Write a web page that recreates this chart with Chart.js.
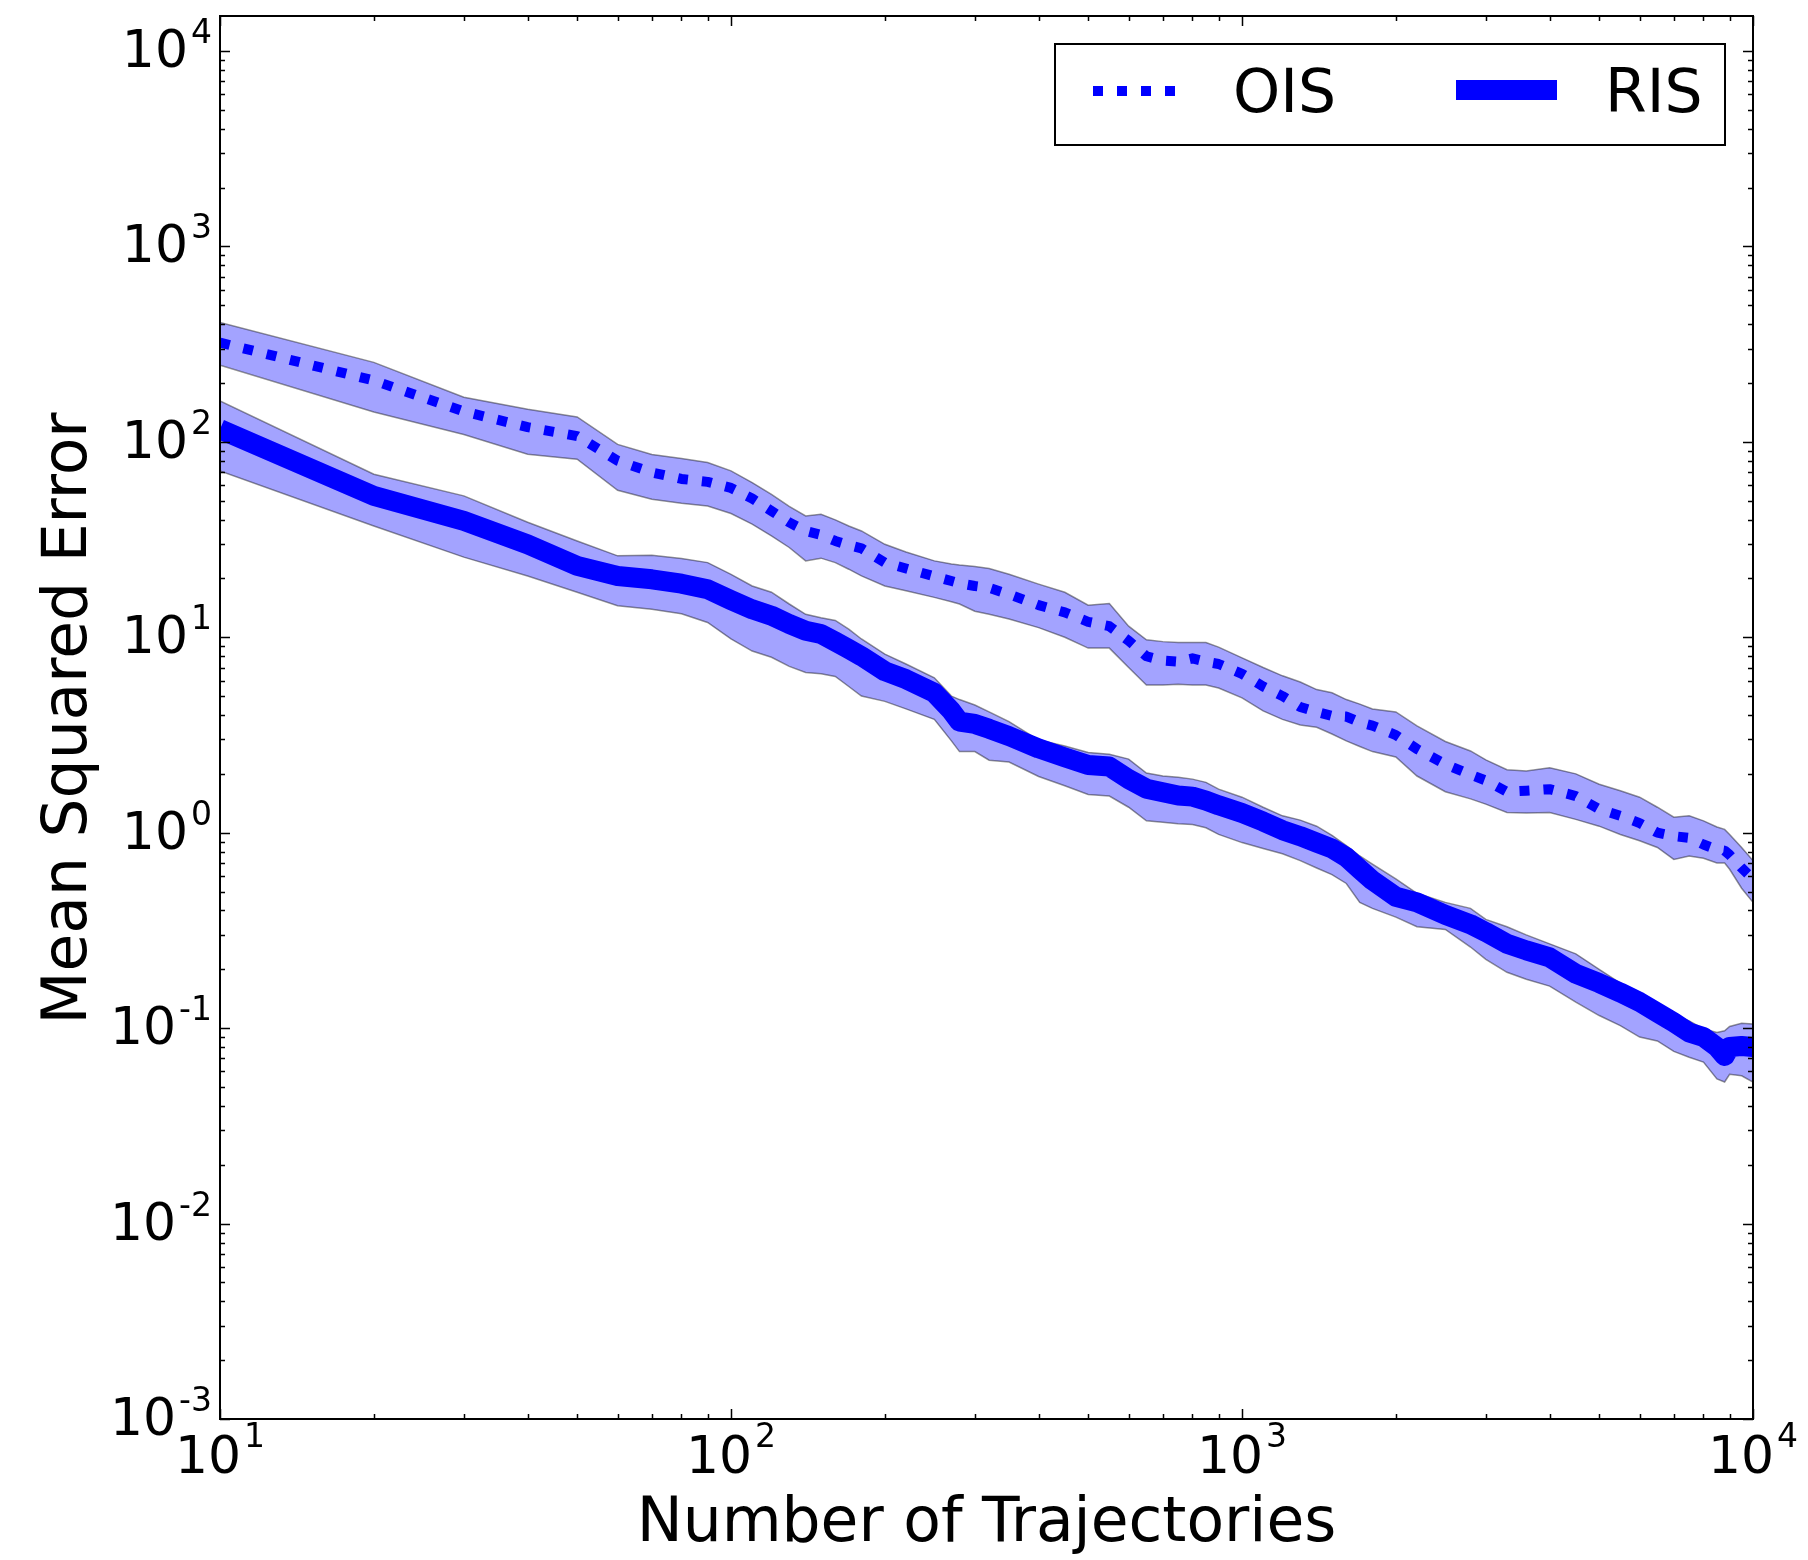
<!DOCTYPE html>
<html>
<head>
<meta charset="utf-8">
<script src="https://cdn.jsdelivr.net/npm/chart.js@4.4.0/dist/chart.umd.min.js"></script>
<style>
  html, body { margin: 0; padding: 0; background: #ffffff; }
  #wrap { width: 1808px; height: 1560px; }
  canvas { display: block; }
</style>
</head>
<body>
<div id="wrap"><canvas id="c" width="1808" height="1560" style="width:1808px;height:1560px"></canvas></div>
<script>
// ---- data ----
const trajectories = [10,20,30,40,50,60,70,80,90,100,110,120,130,140,150,160,170,180,200,220,250,270,280,300,320,350,400,450,500,550,600,650,700,750,800,850,900,1000,1100,1200,1300,1400,1500,1600,1700,1800,2000,2200,2500,2800,3000,3300,3600,4000,4500,5000,5500,6000,6500,7000,7500,8000,8500,8800,9000,9500,10000];

const oisMean = [322,206,143,119,107,80,69.7,64.6,62.4,58.1,51.3,44.3,38.7,35.0,33.4,31.1,29.6,28.5,24.1,22.5,20.5,19.4,18.9,18.3,17.9,16.6,14.6,13.4,12.0,11.4,9.6,8.0,7.6,7.5,7.8,7.5,7.3,6.5,5.6,5.0,4.4,4.15,3.96,3.93,3.67,3.53,3.16,2.68,2.24,1.98,1.85,1.62,1.64,1.67,1.54,1.32,1.22,1.12,1.0,0.96,0.94,0.87,0.82,0.81,0.77,0.66,0.58];
const oisLow  = [247,142,109,86.4,81.5,56.5,50.9,48.5,47.0,43.0,37.9,33.0,28.8,24.6,25.4,24.1,22.3,20.6,18.3,17.3,16.0,15.2,14.8,13.6,13.1,12.4,11.2,10.0,8.8,8.8,7.0,5.7,5.7,5.75,5.7,5.7,5.5,4.9,4.2,3.8,3.56,3.46,3.2,2.95,2.76,2.6,2.44,1.95,1.62,1.49,1.40,1.27,1.26,1.27,1.17,1.08,0.98,0.91,0.84,0.73,0.76,0.74,0.70,0.70,0.65,0.52,0.44];
const oisHigh = [408,255,169,147,134,97,86.1,82.2,78.4,71.0,61.9,53.8,46.7,41.8,42.6,39.9,37.1,35.0,29.9,27.3,24.6,23.7,23.4,23.0,22.5,21.0,18.7,17.0,14.6,14.9,11.4,9.7,9.5,9.4,9.4,9.4,8.9,7.85,7.0,6.35,5.9,5.4,5.2,4.8,4.55,4.3,4.15,3.52,2.93,2.62,2.36,2.10,2.07,2.15,2.0,1.77,1.64,1.52,1.35,1.20,1.22,1.15,1.07,1.04,0.98,0.84,0.72];

const risMean = [116,52.9,39.4,29.9,23.2,20.6,19.8,18.8,17.6,15.5,13.9,12.9,11.7,10.8,10.4,9.5,8.7,8.0,6.7,6.1,5.2,4.2,3.7,3.6,3.4,3.12,2.70,2.43,2.22,2.18,1.88,1.68,1.61,1.55,1.53,1.46,1.38,1.26,1.14,1.03,0.96,0.89,0.83,0.75,0.65,0.57,0.47,0.44,0.38,0.34,0.31,0.27,0.25,0.23,0.19,0.17,0.152,0.136,0.12,0.107,0.095,0.090,0.080,0.072,0.080,0.081,0.080];
const risLow  = [71,37.1,25.7,20.6,17.0,14.5,13.9,13.2,11.9,9.8,8.5,7.9,7.1,6.6,6.5,6.3,5.6,5.0,4.7,4.3,3.8,2.95,2.6,2.6,2.35,2.3,1.94,1.74,1.57,1.54,1.35,1.15,1.13,1.11,1.10,1.06,0.98,0.89,0.83,0.78,0.72,0.66,0.61,0.55,0.44,0.41,0.37,0.33,0.32,0.26,0.225,0.193,0.178,0.164,0.136,0.116,0.103,0.090,0.086,0.076,0.071,0.067,0.055,0.053,0.058,0.057,0.053];
const risHigh = [162,68.3,52.9,38.8,31.1,26.1,26.3,25.3,24.1,21.0,18.3,17.0,14.8,13.1,12.6,12.2,11.0,9.8,8.2,7.3,6.2,5.0,4.8,4.5,4.15,3.7,2.98,2.78,2.57,2.52,2.38,2.02,1.95,1.92,1.88,1.81,1.67,1.52,1.35,1.22,1.16,1.08,0.97,0.86,0.76,0.69,0.58,0.49,0.44,0.41,0.36,0.33,0.30,0.27,0.24,0.20,0.17,0.152,0.130,0.117,0.109,0.099,0.095,0.097,0.102,0.106,0.105];

const xTickExponents = [1, 2, 3, 4];
const yTickExponents = [-3, -2, -1, 0, 1, 2, 3, 4];
const seriesNames = ['OIS', 'RIS'];
const xTitle = 'Number of Trajectories';
const yTitle = 'Mean Squared Error';

// ---- build datasets ----
const pts = arr => trajectories.map((n, i) => ({ x: n, y: arr[i] }));
const BLUE = '#0000ff';
const BAND = 'rgba(0,0,255,0.36)';
const EDGE = 'rgba(0,0,0,0.42)';

const datasets = [
  { label: 'OIS upper', data: pts(oisHigh), borderColor: EDGE, borderWidth: 1.5, fill: false, order: 4 },
  { label: 'OIS lower', data: pts(oisLow), borderColor: EDGE, borderWidth: 1.5, fill: '-1', backgroundColor: BAND, order: 4 },
  { label: 'RIS upper', data: pts(risHigh), borderColor: EDGE, borderWidth: 1.5, fill: false, order: 3 },
  { label: 'RIS lower', data: pts(risLow), borderColor: EDGE, borderWidth: 1.5, fill: '-1', backgroundColor: BAND, order: 3 },
  { label: seriesNames[0], data: pts(oisMean), borderColor: BLUE, borderWidth: 10, borderDash: [10, 14], borderCapStyle: 'butt', borderJoinStyle: 'round', fill: false, order: 2 },
  { label: seriesNames[1], data: pts(risMean), borderColor: BLUE, borderWidth: 20, borderCapStyle: 'butt', borderJoinStyle: 'round', fill: false, order: 1 }
];

const FONT = '"DejaVu Sans", "Liberation Sans", sans-serif';

const decor = {
  id: 'decor',
  afterDraw(chart) {
    const { ctx, chartArea: a, scales: { x, y } } = chart;
    ctx.save();
    // frame
    ctx.strokeStyle = '#000';
    ctx.lineWidth = 2;
    ctx.strokeRect(a.left, a.top, a.right - a.left, a.bottom - a.top);

    // inward ticks on all four sides
    ctx.lineWidth = 1.5;
    ctx.beginPath();
    for (let e = 0; e <= 4; e++) {
      for (let m = 1; m <= 9; m++) {
        const v = m * Math.pow(10, e);
        if (v < x.min * 0.999 || v > x.max * 1.001) continue;
        const px = Math.round(x.getPixelForValue(v)) + 0.5;
        const len = m === 1 ? 10 : 5;
        ctx.moveTo(px, a.bottom); ctx.lineTo(px, a.bottom - len);
        ctx.moveTo(px, a.top); ctx.lineTo(px, a.top + len);
      }
    }
    for (let e = -3; e <= 4; e++) {
      for (let m = 1; m <= 9; m++) {
        const v = m * Math.pow(10, e);
        if (v < y.min * 0.999 || v > y.max * 1.001) continue;
        const py = Math.round(y.getPixelForValue(v)) + 0.5;
        const len = m === 1 ? 10 : 5;
        ctx.moveTo(a.left, py); ctx.lineTo(a.left + len, py);
        ctx.moveTo(a.right, py); ctx.lineTo(a.right - len, py);
      }
    }
    ctx.stroke();

    // tick labels 10^n
    ctx.fillStyle = '#000';
    const baseFont = '52px ' + FONT;
    const expFont = '33px ' + FONT;
    const gap = 3;
    ctx.textBaseline = 'alphabetic';
    xTickExponents.forEach(e => {
      const px = x.getPixelForValue(Math.pow(10, e));
      const es = String(e);
      ctx.font = baseFont; const wb = ctx.measureText('10').width;
      ctx.font = expFont; const we = ctx.measureText(es).width;
      const start = px - (wb + gap + we) / 2;
      ctx.textAlign = 'left';
      ctx.font = baseFont; ctx.fillText('10', start, a.bottom + 54);
      ctx.font = expFont; ctx.fillText(es, start + wb + gap, a.bottom + 28);
    });
    yTickExponents.forEach(e => {
      const py = y.getPixelForValue(Math.pow(10, e));
      const es = String(e);
      const right = a.left - 8;
      ctx.textAlign = 'right';
      ctx.font = expFont; const we = ctx.measureText(es).width;
      ctx.fillText(es, right, py - 8);
      ctx.font = baseFont; ctx.fillText('10', right - we - gap, py + 16);
    });

    // axis titles
    ctx.font = '61.5px ' + FONT;
    ctx.textAlign = 'center';
    ctx.fillText(xTitle, (a.left + a.right) / 2, 1541);
    ctx.save();
    ctx.translate(86, (a.top + a.bottom) / 2 + 1);
    ctx.rotate(-Math.PI / 2);
    ctx.fillText(yTitle, 0, 0);
    ctx.restore();

    // legend
    const lx = 1055, ly = 44, lw = 670, lh = 101;
    ctx.fillStyle = '#fff';
    ctx.fillRect(lx, ly, lw, lh);
    ctx.strokeStyle = '#000';
    ctx.lineWidth = 2;
    ctx.strokeRect(lx, ly, lw, lh);
    // OIS sample
    ctx.strokeStyle = BLUE;
    ctx.lineCap = 'butt';
    ctx.lineWidth = 10;
    ctx.setLineDash([10, 14]);
    ctx.beginPath(); ctx.moveTo(1093, 91); ctx.lineTo(1176, 91); ctx.stroke();
    ctx.setLineDash([]);
    // RIS sample
    ctx.lineWidth = 20;
    ctx.beginPath(); ctx.moveTo(1456, 90); ctx.lineTo(1557, 90); ctx.stroke();
    ctx.fillStyle = '#000';
    ctx.font = '60px ' + FONT;
    ctx.textAlign = 'left';
    ctx.fillText(seriesNames[0], 1233, 112);
    ctx.fillText(seriesNames[1], 1605, 112);
    ctx.restore();
  }
};

new Chart(document.getElementById('c'), {
  type: 'line',
  data: { datasets },
  options: {
    responsive: false,
    maintainAspectRatio: false,
    devicePixelRatio: 1,
    animation: false,
    parsing: true,
    layout: { padding: { left: 220, top: 16, right: 55, bottom: 141 } },
    elements: { point: { radius: 0, hoverRadius: 0 }, line: { tension: 0 } },
    plugins: { legend: { display: false }, tooltip: { enabled: false }, filler: { propagate: false } },
    scales: {
      x: { type: 'logarithmic', min: 10, max: 10000, display: false },
      y: { type: 'logarithmic', min: 0.001, max: 15100, display: false }
    }
  },
  plugins: [decor]
});
</script>
</body>
</html>
